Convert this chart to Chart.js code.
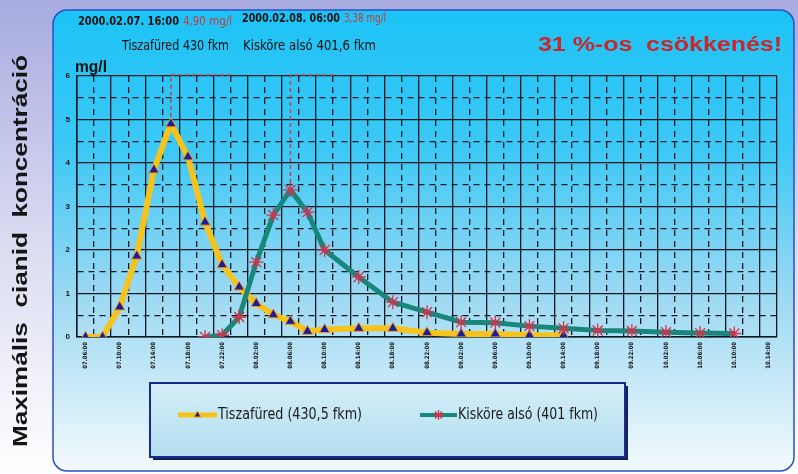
<!doctype html>
<html lang="hu">
<head>
<meta charset="utf-8">
<title>Maximális cianid koncentráció</title>
<script src="https://cdn.jsdelivr.net/npm/chart.js"></script>
<style>
  html, body { margin: 0; padding: 0; background: #fff; }
  #doboz { width: 798px; height: 474px; }
</style>
</head>
<body>
<div id="doboz"><canvas id="grafico" width="798" height="474"></canvas></div>
<script>

    // mérési időpontok, 2 óránként (nap.óra)
    var idopontok = [
        '07.06:00', '07.08:00', '07.10:00', '07.12:00', '07.14:00', '07.16:00', '07.18:00',
        '07.20:00', '07.22:00', '08.00:00', '08.02:00', '08.04:00', '08.06:00', '08.08:00',
        '08.10:00', '08.12:00', '08.14:00', '08.16:00', '08.18:00', '08.20:00', '08.22:00',
        '09.00:00', '09.02:00', '09.04:00', '09.06:00', '09.08:00', '09.10:00', '09.12:00',
        '09.14:00', '09.16:00', '09.18:00', '09.20:00', '09.22:00', '10.00:00', '10.02:00',
        '10.04:00', '10.06:00', '10.08:00', '10.10:00', '10.12:00', '10.14:00'
    ];

    // mg/l
    var tiszafured = [
        0, 0, 0.69, 1.86, 3.84, 4.90, 4.14, 2.64, 1.66, 1.15, 0.77, 0.51, 0.36, 0.13,
        0.17, null, 0.20, null, 0.20, null, 0.10, null, 0.07, null, 0.07, null, 0.04, null,
        0.04, null, null, null, null, null, null, null, null, null, null, null, null
    ];

    var kiskore = [
        null, null, null, null, null, null, null, 0, 0.04, 0.46, 1.72, 2.80, 3.38, 2.87,
        2.00, null, 1.38, null, 0.80, null, 0.57, null, 0.34, null, 0.33, null, 0.25, null,
        0.20, null, 0.15, null, 0.14, null, 0.11, null, 0.09, null, 0.08, null, null
    ];

    var sorozatNevek = ['Tiszafüred (430,5 fkm)', 'Kisköre alsó (401 fkm)'];

    // csúcsok: index, érték, meddig fut a szaggatott vonal a felirat felé
    var csucsIndex = [5, 12];
    var csucsErtek = [4.90, 3.38];
    var csucsVonalVege = [8.6, 14.6];

    var betu = "'Liberation Sans Narrow', 'DejaVu Sans Condensed', 'Liberation Sans', sans-serif";
    var betuSima = "'Liberation Sans', Arial, sans-serif";

    // szöveg adott szélességre húzva
    function szoveg(ctx, text, x, y, w, font, color) {
        ctx.save();
        ctx.font = font;
        ctx.fillStyle = color;
        ctx.textBaseline = 'middle';
        ctx.textAlign = 'left';
        var m = ctx.measureText(text).width;
        ctx.translate(x, y);
        ctx.scale(w / m, 1);
        ctx.fillText(text, 0, 0);
        ctx.restore();
    }

    var hatter = {
        id: 'hatter',
        beforeDraw: function (chart) {
            var ctx = chart.ctx;
            ctx.save();
            var g = ctx.createLinearGradient(0, 0, 0, 474);
            g.addColorStop(0, '#a7abdf');
            g.addColorStop(0.5, '#d9dbf1');
            g.addColorStop(1, '#ffffff');
            ctx.fillStyle = g;
            ctx.fillRect(0, 0, 798, 474);

            var p = ctx.createLinearGradient(0, 10, 0, 471);
            p.addColorStop(0, '#1cc3f6');
            p.addColorStop(0.3, '#3cc8f5');
            p.addColorStop(0.62, '#9cd9f3');
            p.addColorStop(1, '#f4fafd');
            ctx.beginPath();
            ctx.roundRect(53, 10, 741, 461, 14);
            ctx.fillStyle = p;
            ctx.fill();
            ctx.lineWidth = 1.5;
            ctx.strokeStyle = '#2a4fc4';
            ctx.stroke();
            ctx.restore();
        },
        beforeDatasetsDraw: function (chart) {
            // szaggatott piros vonal a csúcstól a felirat felé
            var ctx = chart.ctx;
            var x = chart.scales.x, y = chart.scales.y;
            var lep = x.getPixelForValue(1) - x.getPixelForValue(0);
            ctx.save();
            ctx.strokeStyle = '#c8404a';
            ctx.lineWidth = 1.5;
            ctx.setLineDash([4, 3]);
            for (var i = 0; i < csucsIndex.length; i++) {
                var px = x.getPixelForValue(csucsIndex[i]);
                var vege = px + (csucsVonalVege[i] - csucsIndex[i]) * lep;
                ctx.beginPath();
                ctx.moveTo(px, y.getPixelForValue(csucsErtek[i]));
                ctx.lineTo(px, y.getPixelForValue(6) - 1);
                ctx.lineTo(vege, y.getPixelForValue(6) - 1);
                ctx.stroke();
            }
            ctx.restore();
        },
        afterDraw: function (chart) {
            var ctx = chart.ctx;

            // feliratok felül
            szoveg(ctx, '2000.02.07. 16:00', 78, 22, 101, 'bold 13px ' + betu, '#111');
            szoveg(ctx, '4,90 mg/l', 183, 22, 49, '13px ' + betu, '#c8383c');
            szoveg(ctx, 'Tiszafüred 430 fkm', 122, 46, 107, '14px ' + betu, '#111');
            szoveg(ctx, '2000.02.08. 06:00', 242, 19, 98, 'bold 13px ' + betu, '#111');
            szoveg(ctx, '3,38 mg/l', 344, 19, 42, '13px ' + betu, '#c8383c');
            szoveg(ctx, 'Kisköre alsó 401,6 fkm', 243, 46, 133, '14px ' + betu, '#111');
            szoveg(ctx, '31 %-os  csökkenés!', 538, 45, 244, 'bold 20px ' + betuSima, '#c8282c');
            szoveg(ctx, 'mg/l', 75, 68, 32, 'bold 16px ' + betuSima, '#111');

            // függőleges tengelycím
            ctx.save();
            ctx.translate(21, 251);
            ctx.rotate(-Math.PI / 2);
            szoveg(ctx, 'Maximális  cianid  koncentráció', -196, 0, 392, 'bold 20px ' + betuSima, '#151515');
            ctx.restore();

            // jelmagyarázat doboz
            ctx.save();
            ctx.fillStyle = '#14205a';
            ctx.fillRect(153, 386, 475, 74);
            var lg = ctx.createLinearGradient(0, 383, 0, 457);
            lg.addColorStop(0, '#d6eef8');
            lg.addColorStop(0.5, '#c2e6f4');
            lg.addColorStop(1, '#b6dff0');
            ctx.fillStyle = lg;
            ctx.fillRect(150, 383, 475, 74);
            ctx.lineWidth = 2;
            ctx.strokeStyle = '#1a2a8a';
            ctx.strokeRect(150, 383, 475, 74);

            var mintaX = [[178, 217], [420, 457]];
            var szovegX = [218, 458];
            var szovegW = [144, 140];
            chart.data.datasets.forEach(function (ds, i) {
                ctx.beginPath();
                ctx.lineWidth = ds.borderWidth - 1;
                ctx.strokeStyle = ds.borderColor;
                ctx.moveTo(mintaX[i][0], 415);
                ctx.lineTo(mintaX[i][1], 415);
                ctx.stroke();
                ctx.fillStyle = ds.pointBackgroundColor;
                ctx.strokeStyle = ds.pointBorderColor;
                ctx.lineWidth = ds.pointBorderWidth;
                Chart.helpers.drawPoint(ctx, {
                    pointStyle: ds.pointStyle,
                    radius: ds.pointRadius - 2,
                    rotation: 0,
                    borderWidth: ds.pointBorderWidth
                }, (mintaX[i][0] + mintaX[i][1]) / 2, 415);
                szoveg(ctx, ds.label, szovegX[i], 415, szovegW[i], '16px ' + betu, '#1a1a1a');
            });
            ctx.restore();
        }
    };

    var racsDash = function (c) {
        var n = c.chart.data.labels.length;
        if (c.scale.axis === 'x' && c.index >= n) return [];
        return (c.index % 2 === 1) ? [6, 5] : [];
    };

    var ctxGrafico = document.getElementById('grafico');

    new Chart(ctxGrafico, {
        type: 'line',
        data: {
            labels: idopontok,
            datasets: [{
                label: sorozatNevek[0],
                data: tiszafured,
                borderColor: '#f6c31c',
                backgroundColor: '#1c1c9c',
                borderWidth: 6,
                borderJoinStyle: 'round',
                borderCapStyle: 'round',
                pointStyle: 'triangle',
                pointRadius: 6,
                pointBackgroundColor: '#1c1c9c',
                pointBorderColor: '#f09a20',
                pointBorderWidth: 1,
                spanGaps: true,
                tension: 0,
                order: 1
            }, {
                label: sorozatNevek[1],
                data: kiskore,
                borderColor: '#17877c',
                backgroundColor: '#d8304a',
                borderWidth: 5,
                borderJoinStyle: 'round',
                pointStyle: 'star',
                pointRadius: 7,
                pointBackgroundColor: '#d8304a',
                pointBorderColor: '#d8304a',
                pointBorderWidth: 1.3,
                spanGaps: true,
                tension: 0,
                order: 0
            }]
        },
        options: {
            responsive: false,
            animation: false,
            layout: { padding: { left: 60, top: 76, right: 21, bottom: 97 } },
            plugins: {
                legend: { display: false },
                tooltip: { enabled: false }
            },
            scales: {
                x: {
                    offset: true,
                    afterFit: function (s) { s.height = 40; },
                    grid: {
                        offset: true,
                        color: '#0c1822',
                        lineWidth: 1.3,
                        drawTicks: false
                    },
                    border: { color: '#0c1822', width: 1.5, dash: racsDash },
                    ticks: {
                        autoSkip: false,
                        minRotation: 90,
                        maxRotation: 90,
                        padding: 5,
                        color: '#111',
                        font: { size: 6, weight: 'bold', family: betu },
                        callback: function (v, i) { return i % 2 === 0 ? idopontok[i] : ''; }
                    }
                },
                y: {
                    min: 0,
                    max: 6,
                    afterFit: function (s) { s.width = 17; },
                    grid: {
                        color: '#0c1822',
                        lineWidth: 1.3,
                        drawTicks: false
                    },
                    border: { color: '#0c1822', width: 1.5, dash: racsDash },
                    ticks: {
                        stepSize: 0.5,
                        padding: 7,
                        color: '#111',
                        font: { size: 8, weight: 'bold', family: betuSima },
                        callback: function (v) { return v % 1 === 0 ? v : ''; }
                    }
                }
            }
        },
        plugins: [hatter]
    });

</script>
</body>
</html>
